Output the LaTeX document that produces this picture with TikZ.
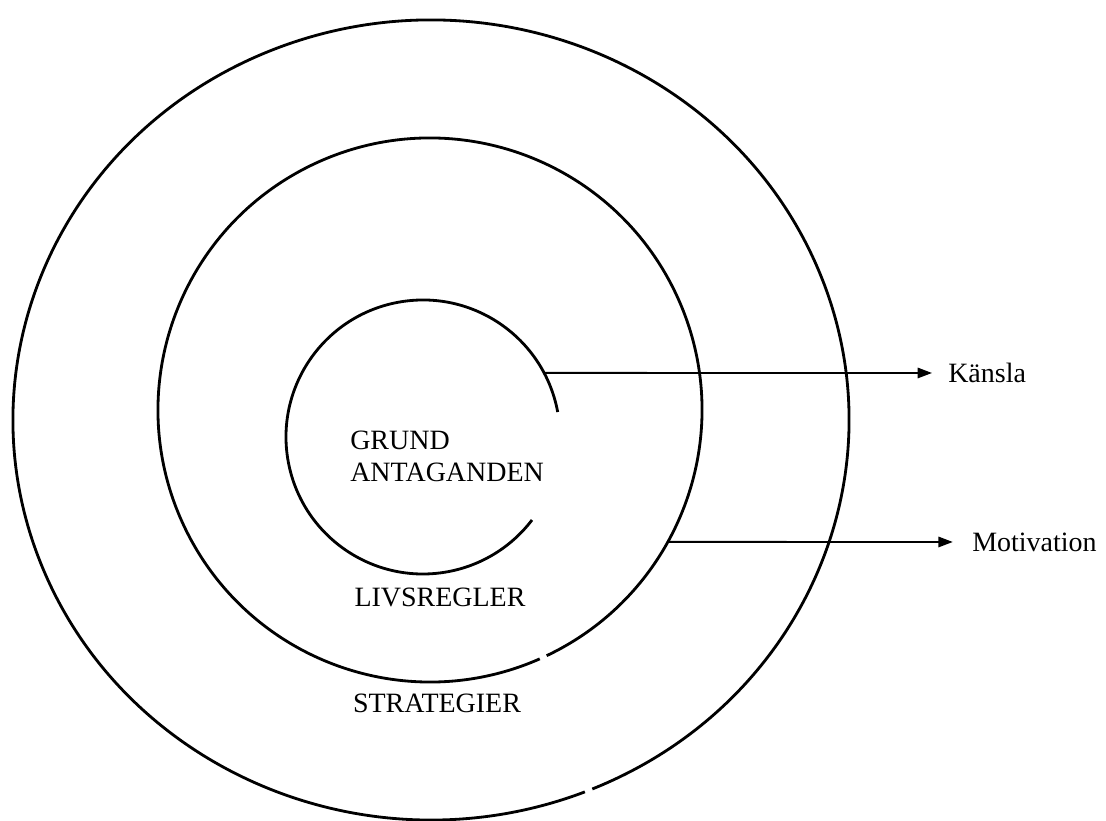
\documentclass[tikz,border=0pt]{standalone}
\usepackage{fontspec}
\setmainfont{Liberation Serif}
\usepackage{tikz}
\usetikzlibrary{arrows.meta, calc}

\tikzset{
  ring/.style={line width=2pt},
  pil/.style={line width=1.3pt, -{Triangle[length=0.36cm, width=0.26cm]}},
  etikett/.style={inner sep=0pt, font=\fontsize{19.9}{22.8}\selectfont}
}

\begin{document}
\begin{tikzpicture}[x=0.025cm, y=0.025cm]
             \useasboundingbox (0,0) rectangle (1106,821);
             % mittpunkter
             \coordinate (yttre) at (431,401);
             \coordinate (mitt) at (430,411);
             \coordinate (inre) at (423,384);
             % cirklarna
             \draw [ring] ($(yttre)+(-67.3:418 and 400)$)
                   arc [start angle=-67.3, end angle=291.6, x radius=418, y radius=400];
             \draw [ring] ($(mitt)+(-64.6:272)$)
                   arc [start angle=-64.6, end angle=293.8, radius=272];
             \draw [ring] ($(inre)+(10.5:137)$)
                   arc [start angle=10.5, end angle=322.7, radius=137];
             % texter
             \node [etikett, anchor=west, align=left] (grund) at (350,365)
                   {GRUND\\ANTAGANDEN};
             \node [etikett] (livs) at (440,224) {LIVSREGLER};
             \node [etikett] (strat) at (437,118) {STRATEGIER};
             \node [etikett, anchor=west] (kansla) at (948,448) {Känsla};
             \node [etikett, anchor=west] (motiv) at (972,279) {Motivation};
             % pilar
             \coordinate (ks) at ($(inre)+(27.9:137)$);
             \coordinate (ms) at ($(mitt)+(-29:272)$);
             \draw [pil, shorten >=0.4cm] (ks) -- (kansla.west);
             \draw [pil, shorten >=0.48cm] (ms) -- (motiv.west);
         \end{tikzpicture}
\end{document}
